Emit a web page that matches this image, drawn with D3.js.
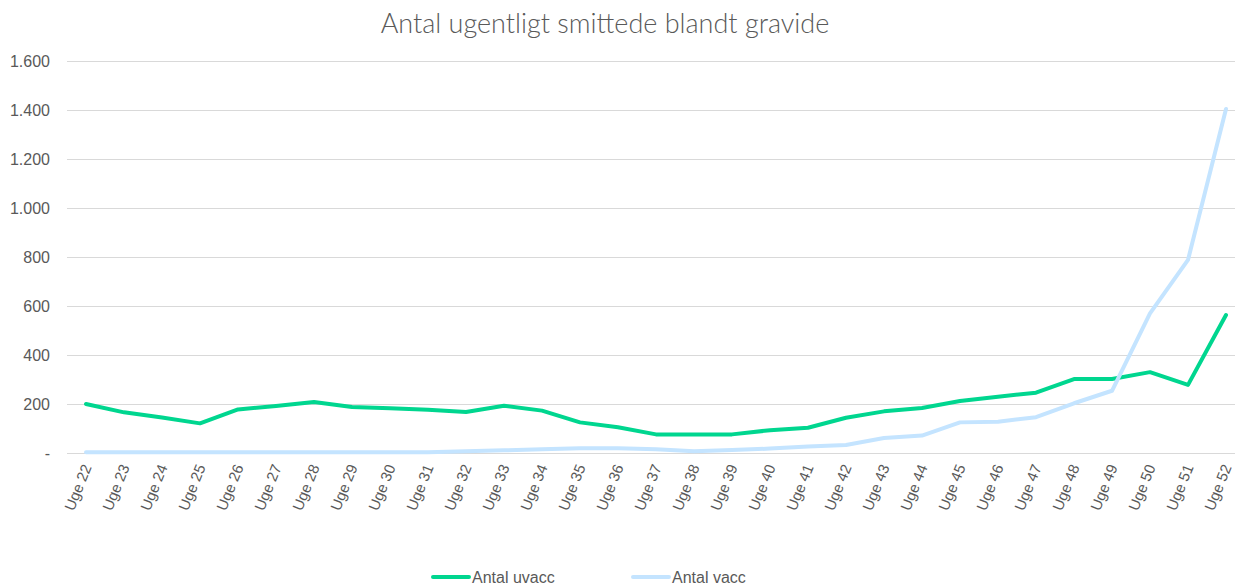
<!DOCTYPE html>
<meta charset="utf-8">
<body style="margin:0;background:#fff">
<script src="https://cdn.jsdelivr.net/npm/d3@7"></script>
<script>

    var weeks = d3.range(22, 53).map(function(w) { return "Uge " + w; });

    var uvacc = [200, 166, 145, 121, 178, 192, 208, 188, 183, 177,
                 167, 193, 173, 125, 105, 76, 76, 76, 93, 103,
                 144, 170, 184, 212, 230, 246, 302, 302, 330, 278, 563];

    var vacc = [3, 3, 3, 3, 3, 3, 3, 3, 3, 3,
                7, 11, 15, 19, 19, 15, 7, 12, 18, 27,
                33, 61, 71, 125, 128, 146, 203, 254, 570, 788, 1404];

    var yTicks = [0, 200, 400, 600, 800, 1000, 1200, 1400, 1600];

    var series = [
        {name: "Antal uvacc", values: uvacc, color: "#00d68f"},
        {name: "Antal vacc", values: vacc, color: "#c4e4ff"}
    ];

    var width = 1235, height = 585,
        axisFont = "Liberation Sans, Arial, sans-serif";

    var svg = d3.select("body").append("svg")
        .attr("width", width)
        .attr("height", height);

    var x = d3.scalePoint()
        .domain(weeks)
        .range([86, 1226]);

    var y = d3.scaleLinear()
        .domain([0, 1600])
        .range([453, 61]);

    var fmt = d3.formatLocale({decimal: ",", thousands: ".", grouping: [3], currency: ["", ""]}).format(",d");

    // grid + y labels
    var yAxis = svg.append("g")
        .attr("transform", "translate(67,0)")
        .call(d3.axisLeft(y).tickValues(yTicks).tickSize(-(width - 67)).tickPadding(17)
            .tickFormat(function(d) { return d === 0 ? "-" : fmt(d); }));
    yAxis.attr("font-family", axisFont).attr("font-size", 16);
    yAxis.select(".domain").remove();
    yAxis.selectAll(".tick line").attr("stroke", "#d9d9d9").attr("stroke-width", 1);
    yAxis.selectAll(".tick text").attr("fill", "#595959");

    // x labels
    svg.append("g")
        .attr("font-family", axisFont)
        .attr("font-size", 15)
      .selectAll("text")
        .data(weeks)
        .enter().append("text")
          .attr("transform", function(d) { return "translate(" + (x(d) + 1) + ",465) rotate(-68)"; })
          .attr("text-anchor", "end")
          .attr("dy", "0.35em")
          .attr("fill", "#595959")
          .text(function(d) { return d; });

    var line = d3.line()
        .x(function(d, i) { return x(weeks[i]); })
        .y(function(d) { return y(d); });

    // vacc drawn last so it sits on top, as in the original
    svg.selectAll(".series")
        .data(series)
        .enter().append("path")
          .attr("class", "series")
          .attr("d", function(d) { return line(d.values); })
          .attr("fill", "none")
          .attr("stroke", function(d) { return d.color; })
          .attr("stroke-width", 4)
          .attr("stroke-linejoin", "round")
          .attr("stroke-linecap", "round");

    // title
    svg.append("text")
        .attr("x", 605)
        .attr("y", 33)
        .attr("text-anchor", "middle")
        .attr("fill", "#595959")
        .attr("font-family", "Lato, Open Sans, sans-serif")
        .attr("font-size", 27)
        .attr("font-weight", 300)
        .text("Antal ugentligt smittede blandt gravide");

    // legend
    var leg = svg.selectAll(".leg")
        .data(series)
        .enter().append("g")
          .attr("class", "leg")
          .attr("font-family", axisFont)
          .attr("font-size", 16)
          .attr("transform", function(d, i) { return "translate(" + (433 + i * 200) + ",577)"; });

    leg.append("line")
        .attr("x1", 0).attr("x2", 36)
        .attr("stroke", function(d) { return d.color; })
        .attr("stroke-width", 4)
        .attr("stroke-linecap", "round");

    leg.append("text")
        .attr("x", 39)
        .attr("dy", "0.35em")
        .attr("fill", "#595959")
        .text(function(d) { return d.name; });

</script>
</body>
